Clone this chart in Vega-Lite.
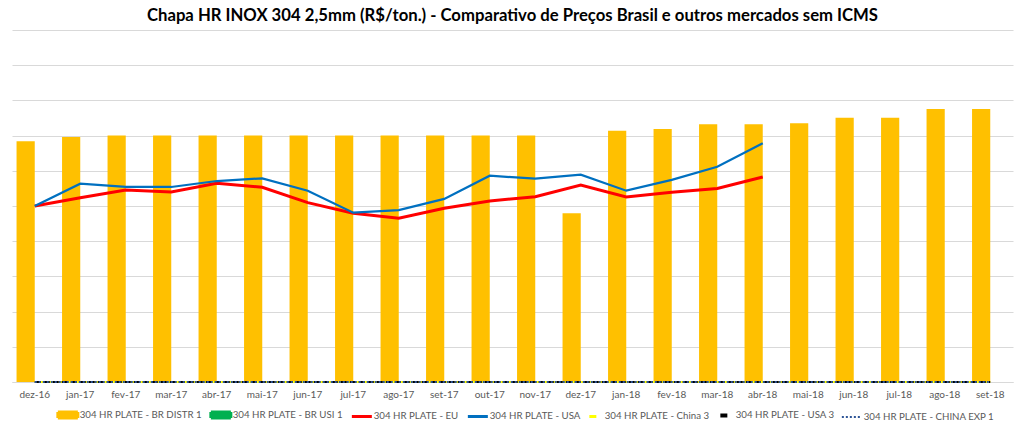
{
  "$schema": "https://vega.github.io/schema/vega-lite/v6.json",
  "width": 1001,
  "height": 352,
  "autosize": {"type": "none"},
  "padding": {"left": 12, "top": 30, "right": 10, "bottom": 46},
  "background": "white",
  "title": {
    "text": "Chapa HR INOX 304 2,5mm (R$/ton.) - Comparativo de Preços Brasil e outros mercados sem ICMS",
    "font": "Lato", "fontSize": 16.7, "fontWeight": "bold", "color": "#000000", "anchor": "middle", "offset": 5
  },
  "config": {"view": {"stroke": null}},
  "data": {"values": [
    {"m": "dez-16", "304 HR PLATE - BR DISTR 1": 13680, "304 HR PLATE - BR USI 1": 0, "304 HR PLATE - EU": 10000, "304 HR PLATE - USA": 10000, "304 HR PLATE - China 3": 0, "304 HR PLATE - USA 3": 0, "304 HR PLATE - CHINA EXP 1": 0},
    {"m": "jan-17", "304 HR PLATE - BR DISTR 1": 13920, "304 HR PLATE - BR USI 1": 0, "304 HR PLATE - EU": 10470, "304 HR PLATE - USA": 11270, "304 HR PLATE - China 3": 0, "304 HR PLATE - USA 3": 0, "304 HR PLATE - CHINA EXP 1": 0},
    {"m": "fev-17", "304 HR PLATE - BR DISTR 1": 14000, "304 HR PLATE - BR USI 1": 0, "304 HR PLATE - EU": 10910, "304 HR PLATE - USA": 11080, "304 HR PLATE - China 3": 0, "304 HR PLATE - USA 3": 0, "304 HR PLATE - CHINA EXP 1": 0},
    {"m": "mar-17", "304 HR PLATE - BR DISTR 1": 14000, "304 HR PLATE - BR USI 1": 0, "304 HR PLATE - EU": 10800, "304 HR PLATE - USA": 11080, "304 HR PLATE - China 3": 0, "304 HR PLATE - USA 3": 0, "304 HR PLATE - CHINA EXP 1": 0},
    {"m": "abr-17", "304 HR PLATE - BR DISTR 1": 14000, "304 HR PLATE - BR USI 1": 0, "304 HR PLATE - EU": 11290, "304 HR PLATE - USA": 11420, "304 HR PLATE - China 3": 0, "304 HR PLATE - USA 3": 0, "304 HR PLATE - CHINA EXP 1": 0},
    {"m": "mai-17", "304 HR PLATE - BR DISTR 1": 14000, "304 HR PLATE - BR USI 1": 0, "304 HR PLATE - EU": 11060, "304 HR PLATE - USA": 11570, "304 HR PLATE - China 3": 0, "304 HR PLATE - USA 3": 0, "304 HR PLATE - CHINA EXP 1": 0},
    {"m": "jun-17", "304 HR PLATE - BR DISTR 1": 14000, "304 HR PLATE - BR USI 1": 0, "304 HR PLATE - EU": 10190, "304 HR PLATE - USA": 10870, "304 HR PLATE - China 3": 0, "304 HR PLATE - USA 3": 0, "304 HR PLATE - CHINA EXP 1": 0},
    {"m": "jul-17", "304 HR PLATE - BR DISTR 1": 14000, "304 HR PLATE - BR USI 1": 0, "304 HR PLATE - EU": 9590, "304 HR PLATE - USA": 9620, "304 HR PLATE - China 3": 0, "304 HR PLATE - USA 3": 0, "304 HR PLATE - CHINA EXP 1": 0},
    {"m": "ago-17", "304 HR PLATE - BR DISTR 1": 14000, "304 HR PLATE - BR USI 1": 0, "304 HR PLATE - EU": 9300, "304 HR PLATE - USA": 9770, "304 HR PLATE - China 3": 0, "304 HR PLATE - USA 3": 0, "304 HR PLATE - CHINA EXP 1": 0},
    {"m": "set-17", "304 HR PLATE - BR DISTR 1": 14000, "304 HR PLATE - BR USI 1": 0, "304 HR PLATE - EU": 9870, "304 HR PLATE - USA": 10400, "304 HR PLATE - China 3": 0, "304 HR PLATE - USA 3": 0, "304 HR PLATE - CHINA EXP 1": 0},
    {"m": "out-17", "304 HR PLATE - BR DISTR 1": 14000, "304 HR PLATE - BR USI 1": 0, "304 HR PLATE - EU": 10280, "304 HR PLATE - USA": 11720, "304 HR PLATE - China 3": 0, "304 HR PLATE - USA 3": 0, "304 HR PLATE - CHINA EXP 1": 0},
    {"m": "nov-17", "304 HR PLATE - BR DISTR 1": 14000, "304 HR PLATE - BR USI 1": 0, "304 HR PLATE - EU": 10530, "304 HR PLATE - USA": 11550, "304 HR PLATE - China 3": 0, "304 HR PLATE - USA 3": 0, "304 HR PLATE - CHINA EXP 1": 0},
    {"m": "dez-17", "304 HR PLATE - BR DISTR 1": 9590, "304 HR PLATE - BR USI 1": 0, "304 HR PLATE - EU": 11190, "304 HR PLATE - USA": 11780, "304 HR PLATE - China 3": 0, "304 HR PLATE - USA 3": 0, "304 HR PLATE - CHINA EXP 1": 0},
    {"m": "jan-18", "304 HR PLATE - BR DISTR 1": 14280, "304 HR PLATE - BR USI 1": 0, "304 HR PLATE - EU": 10510, "304 HR PLATE - USA": 10870, "304 HR PLATE - China 3": 0, "304 HR PLATE - USA 3": 0, "304 HR PLATE - CHINA EXP 1": 0},
    {"m": "fev-18", "304 HR PLATE - BR DISTR 1": 14380, "304 HR PLATE - BR USI 1": 0, "304 HR PLATE - EU": 10780, "304 HR PLATE - USA": 11480, "304 HR PLATE - China 3": 0, "304 HR PLATE - USA 3": 0, "304 HR PLATE - CHINA EXP 1": 0},
    {"m": "mar-18", "304 HR PLATE - BR DISTR 1": 14640, "304 HR PLATE - BR USI 1": 0, "304 HR PLATE - EU": 11000, "304 HR PLATE - USA": 12230, "304 HR PLATE - China 3": 0, "304 HR PLATE - USA 3": 0, "304 HR PLATE - CHINA EXP 1": 0},
    {"m": "abr-18", "304 HR PLATE - BR DISTR 1": 14640, "304 HR PLATE - BR USI 1": 0, "304 HR PLATE - EU": 11650, "304 HR PLATE - USA": 13560, "304 HR PLATE - China 3": 0, "304 HR PLATE - USA 3": 0, "304 HR PLATE - CHINA EXP 1": 0},
    {"m": "mai-18", "304 HR PLATE - BR DISTR 1": 14700, "304 HR PLATE - BR USI 1": 0, "304 HR PLATE - China 3": 0, "304 HR PLATE - USA 3": 0, "304 HR PLATE - CHINA EXP 1": 0},
    {"m": "jun-18", "304 HR PLATE - BR DISTR 1": 15020, "304 HR PLATE - BR USI 1": 0, "304 HR PLATE - China 3": 0, "304 HR PLATE - USA 3": 0, "304 HR PLATE - CHINA EXP 1": 0},
    {"m": "jul-18", "304 HR PLATE - BR DISTR 1": 15020, "304 HR PLATE - BR USI 1": 0, "304 HR PLATE - China 3": 0, "304 HR PLATE - USA 3": 0, "304 HR PLATE - CHINA EXP 1": 0},
    {"m": "ago-18", "304 HR PLATE - BR DISTR 1": 15510, "304 HR PLATE - BR USI 1": 0, "304 HR PLATE - China 3": 0, "304 HR PLATE - USA 3": 0, "304 HR PLATE - CHINA EXP 1": 0},
    {"m": "set-18", "304 HR PLATE - BR DISTR 1": 15510, "304 HR PLATE - BR USI 1": 0, "304 HR PLATE - China 3": 0, "304 HR PLATE - USA 3": 0, "304 HR PLATE - CHINA EXP 1": 0}
  ]},
  "transform": [
    {"fold": ["304 HR PLATE - BR DISTR 1", "304 HR PLATE - BR USI 1", "304 HR PLATE - EU", "304 HR PLATE - USA", "304 HR PLATE - China 3", "304 HR PLATE - USA 3", "304 HR PLATE - CHINA EXP 1"], "as": ["series", "value"]},
    {"filter": "isValid(datum.value)"}
  ],
  "encoding": {
    "x": {
      "field": "m", "type": "ordinal", "sort": null,
      "scale": {"paddingInner": 0.2, "paddingOuter": 0.1},
      "axis": {"title": null, "labelAngle": 0, "labelFont": "Lato", "labelFontSize": 10, "labelColor": "#595959", "ticks": false, "domainColor": "#D9D9D9", "labelPadding": 7}
    },
    "y": {
      "field": "value", "type": "quantitative",
      "scale": {"domain": [0, 20000], "nice": false},
      "axis": {"title": null, "labels": false, "ticks": false, "domain": false, "grid": true, "gridColor": "#D9D9D9", "values": [0, 2000, 4000, 6000, 8000, 10000, 12000, 14000, 16000, 18000, 20000]}
    },
    "color": {
      "field": "series", "type": "nominal",
      "scale": {
        "domain": ["304 HR PLATE - BR DISTR 1", "304 HR PLATE - BR USI 1", "304 HR PLATE - EU", "304 HR PLATE - USA", "304 HR PLATE - China 3", "304 HR PLATE - USA 3", "304 HR PLATE - CHINA EXP 1"],
        "range": ["#FFC000", "#00B050", "#FF0000", "#0070C0", "#FFFF00", "#000000", "#2E5597"]
      },
      "legend": {
        "orient": "none", "legendX": 51, "legendY": 380, "direction": "horizontal", "title": null,
        "labelFont": "Lato", "labelFontSize": 9.7, "labelColor": "#595959", "labelOffset": 7,
        "symbolSize": 400, "columnPadding": 2,
        "encode": {
          "symbols": {
            "update": {
              "shape": {"signal": "(datum.value == '304 HR PLATE - BR DISTR 1' || datum.value == '304 HR PLATE - BR USI 1') ? 'M-1,-0.3H1V0.3H-1Z' : (datum.value == '304 HR PLATE - China 3' || datum.value == '304 HR PLATE - USA 3') ? 'M-0.35,0H0.35' : 'M-1,0H1'"},
              "fill": {"signal": "(datum.value == '304 HR PLATE - BR DISTR 1' || datum.value == '304 HR PLATE - BR USI 1') ? scale('color', datum.value) : 'transparent'"},
              "stroke": {"signal": "(datum.value == '304 HR PLATE - BR DISTR 1' || datum.value == '304 HR PLATE - BR USI 1') ? 'transparent' : scale('color', datum.value)"},
              "strokeWidth": {"signal": "datum.value == '304 HR PLATE - USA 3' ? 4 : datum.value == '304 HR PLATE - CHINA EXP 1' ? 2 : 3"},
              "strokeDash": {"signal": "datum.value == '304 HR PLATE - CHINA EXP 1' ? [2, 2] : [1, 0]"},
              "opacity": {"value": 1}
            }
          }
        }
      }
    }
  },
  "layer": [
    {
      "transform": [{"filter": "datum.series == '304 HR PLATE - BR DISTR 1' || datum.series == '304 HR PLATE - BR USI 1'"}],
      "mark": {"type": "bar"},
      "encoding": {
        "xOffset": {"field": "series", "type": "nominal", "scale": {"domain": ["304 HR PLATE - BR DISTR 1", "304 HR PLATE - BR USI 1"], "paddingInner": 0, "paddingOuter": 0}}
      }
    },
    {
      "transform": [{"filter": "datum.series == '304 HR PLATE - China 3' || datum.series == '304 HR PLATE - USA 3' || datum.series == '304 HR PLATE - CHINA EXP 1'"}],
      "mark": {"type": "line", "strokeWidth": 2},
      "encoding": {
        "strokeDash": {"field": "series", "type": "nominal", "legend": null,
          "scale": {"domain": ["304 HR PLATE - China 3", "304 HR PLATE - USA 3", "304 HR PLATE - CHINA EXP 1"], "range": [[1, 0], [6, 3], [2, 2]]}}
      }
    },
    {
      "transform": [{"filter": "datum.series == '304 HR PLATE - EU' || datum.series == '304 HR PLATE - USA'"}],
      "mark": {"type": "line"},
      "encoding": {
        "strokeWidth": {"field": "series", "type": "nominal", "legend": null,
          "scale": {"domain": ["304 HR PLATE - EU", "304 HR PLATE - USA"], "range": [3, 2.25]}}
      }
    }
  ]
}
